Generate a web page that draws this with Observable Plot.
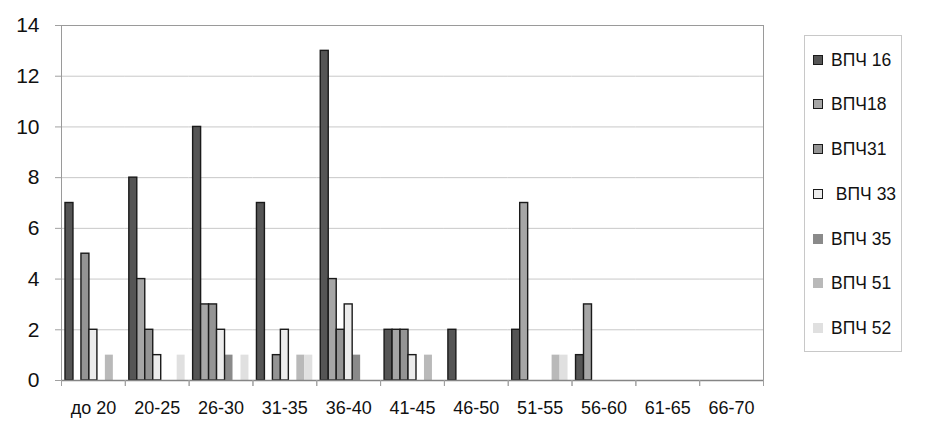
<!DOCTYPE html>
<html>
<head>
<meta charset="utf-8">
<script src="https://cdn.jsdelivr.net/npm/d3@7"></script>
<script src="https://cdn.jsdelivr.net/npm/@observablehq/plot@0.6"></script>
<style>
  html, body { margin: 0; padding: 0; background: #fff; }
  #wrap { position: relative; width: 928px; height: 438px; font-family: "Liberation Sans", Arial, sans-serif; }
  #legend { position: absolute; left: 804px; top: 35px; width: 98px; height: 317px; border: 1px solid #c8c8c8; box-sizing: border-box; }
  .item { position: absolute; left: 8px; height: 20px; display: flex; align-items: center; font-size: 17.5px; color: #111; white-space: pre; }
  .sw { width: 10px; height: 10px; box-sizing: border-box; margin-right: 8px; }
</style>
</head>
<body>
<div id="wrap"><div id="legend"></div></div>
<script>
const categories = ["до 20","20-25","26-30","31-35","36-40","41-45","46-50","51-55","56-60","61-65","66-70"];
const seriesNames = ["ВПЧ 16","ВПЧ18","ВПЧ31","ВПЧ 33","ВПЧ 35","ВПЧ 51","ВПЧ 52"];
const legendLabels = ["ВПЧ 16","ВПЧ18","ВПЧ31"," ВПЧ 33","ВПЧ 35","ВПЧ 51","ВПЧ 52"];
const seriesColors = ["#555555","#a6a6a6","#949494","#ececec","#8a8a8a","#b9b9b9","#e0e0e0"];
const outlinedSeries = ["ВПЧ 16","ВПЧ18","ВПЧ31","ВПЧ 33"];

const vpch16 = [7, 8, 10, 7, 13, 2, 2, 2, 1, 0, 0];
const vpch18 = [0, 4, 3, 0, 4, 2, 0, 7, 3, 0, 0];
const vpch31 = [5, 2, 3, 1, 2, 2, 0, 0, 0, 0, 0];
const vpch33 = [2, 1, 2, 2, 3, 1, 0, 0, 0, 0, 0];
const vpch35 = [0, 0, 1, 0, 1, 0, 0, 0, 0, 0, 0];
const vpch51 = [1, 0, 0, 1, 0, 1, 0, 1, 0, 0, 0];
const vpch52 = [0, 1, 1, 1, 0, 0, 0, 1, 0, 0, 0];
const yTicks = [0, 2, 4, 6, 8, 10, 12, 14];

const seriesValues = [vpch16, vpch18, vpch31, vpch33, vpch35, vpch51, vpch52];
const data = seriesNames.flatMap((s, i) =>
  categories.map((c, j) => ({cat: c, series: s, value: seriesValues[i][j]}))
).filter(d => d.value > 0);

const half = (928 - 61 - 165) / categories.length / 2;

const chart = Plot.plot({
  width: 928,
  height: 438,
  marginLeft: 61,
  marginRight: 165,
  marginTop: 25,
  marginBottom: 58,
  style: {fontFamily: '"Liberation Sans", Arial, sans-serif', background: "white", color: "#111", overflow: "visible"},
  fx: {domain: categories, paddingInner: 0, paddingOuter: 0, round: false, label: null},
  x: {domain: seriesNames, paddingInner: 0, paddingOuter: 0.5, round: false, axis: null},
  y: {domain: [0, 14], label: null},
  color: {domain: seriesNames, range: seriesColors},
  marks: [
    Plot.gridY(yTicks.filter(t => t > 0), {stroke: "#c8c8c8", strokeOpacity: 1}),
    Plot.barY(data.filter(d => !outlinedSeries.includes(d.series)), {fx: "cat", x: "series", y: "value", fill: "series"}),
    Plot.barY(data.filter(d => outlinedSeries.includes(d.series)), {fx: "cat", x: "series", y: "value", fill: "series", stroke: "#1a1a1a", strokeWidth: 1.4}),
    Plot.frame({facet: "super", stroke: "#9a9a9a"}),
    Plot.ruleY(categories, {fx: d => d, y: () => 0, stroke: "#858585", strokeWidth: 1.6}),
    Plot.axisY(yTicks, {tickSize: 6, tickPadding: 16, fontSize: 21, stroke: "#a0a0a0", fill: "#111", label: null}),
    Plot.axisFx({anchor: "bottom", tickSize: 0, tickPadding: 21, fontSize: 18, fill: "#111", label: null}),
    Plot.axisFx({anchor: "bottom", tickSize: 6, text: null, dx: -half, stroke: "#a0a0a0", label: null}),
    Plot.axisFx(categories.slice(-1), {anchor: "bottom", tickSize: 6, text: null, dx: half, stroke: "#a0a0a0", label: null})
  ]
});
document.getElementById("wrap").prepend(chart);

const legend = document.getElementById("legend");
const itemTops = [24, 68, 113, 158, 203, 247, 292];
legendLabels.forEach((lab, i) => {
  const it = document.createElement("div");
  it.className = "item";
  it.style.top = (itemTops[i] - 10) + "px";
  const sw = document.createElement("div");
  sw.className = "sw";
  sw.style.background = seriesColors[i];
  if (outlinedSeries.includes(seriesNames[i])) sw.style.border = "1.3px solid #1a1a1a";
  const tx = document.createElement("span");
  tx.textContent = lab;
  it.appendChild(sw);
  it.appendChild(tx);
  legend.appendChild(it);
});
</script>
</body>
</html>
